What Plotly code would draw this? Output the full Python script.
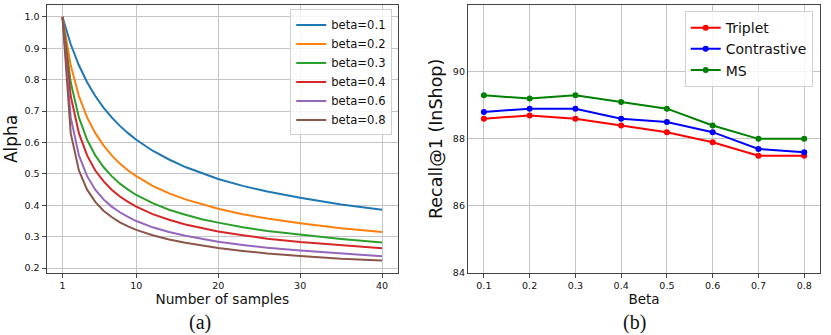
import plotly.graph_objects as go
from plotly.subplots import make_subplots

# (a) alpha vs number of samples, one curve per beta
samples = [1, 2, 3, 4, 5, 6, 7, 8, 9, 10, 12, 14, 16, 18, 20, 23, 26, 30, 35, 40]
betas = ["beta=0.1", "beta=0.2", "beta=0.3", "beta=0.4", "beta=0.6", "beta=0.8"]
alpha_b01 = [1.0, .913, .846, .792, .748, .711, .680, .653, .630, .609, .574, .546, .522, .502, .484, .462, .444, .424, .403, .386]
alpha_b02 = [1.0, .846, .748, .680, .630, .591, .559, .533, .511, .493, .462, .438, .419, .403, .389, .372, .358, .343, .327, .315]
alpha_b03 = [1.0, .792, .680, .609, .559, .522, .493, .469, .450, .433, .407, .386, .370, .356, .345, .330, .318, .306, .293, .282]
alpha_b04 = [1.0, .748, .630, .559, .511, .477, .450, .428, .411, .396, .372, .354, .339, .327, .317, .305, .294, .283, .272, .263]
alpha_b06 = [1.0, .680, .559, .493, .450, .419, .396, .378, .363, .350, .330, .315, .303, .293, .284, .274, .265, .256, .246, .238]
alpha_b08 = [1.0, .630, .511, .450, .411, .383, .363, .346, .333, .322, .305, .291, .281, .272, .264, .255, .247, .239, .230, .224]

# (b) recall@1 on InShop vs beta
beta_vals = [0.1, 0.2, 0.3, 0.4, 0.5, 0.6, 0.7, 0.8]
triplet = [88.6, 88.7, 88.6, 88.4, 88.2, 87.9, 87.5, 87.5]
contrastive = [88.8, 88.9, 88.9, 88.6, 88.5, 88.2, 87.7, 87.6]
ms = [89.3, 89.2, 89.3, 89.1, 88.9, 88.4, 88.0, 88.0]

tab10 = ["#1f77b4", "#ff7f0e", "#2ca02c", "#d62728", "#9467bd", "#8c564b"]
font = "DejaVu Sans"

fig = make_subplots(rows=1, cols=2)

curves = [alpha_b01, alpha_b02, alpha_b03, alpha_b04, alpha_b06, alpha_b08]
for name, ys, c in zip(betas, curves, tab10):
    fig.add_trace(go.Scatter(x=samples, y=ys, mode="lines", name=name,
                             line=dict(color=c, width=2), legend="legend"), row=1, col=1)

for name, ys, c in [("Triplet", triplet, "#ff0000"), ("Contrastive", contrastive, "#0000ff"), ("MS", ms, "#008000")]:
    fig.add_trace(go.Scatter(x=beta_vals, y=ys, mode="lines+markers", name=name,
                             line=dict(color=c, width=2), marker=dict(size=6, color=c),
                             legend="legend2"), row=1, col=2)

axis_common = dict(showline=True, mirror=True, linecolor="#444", linewidth=1,
                   showgrid=True, gridcolor="#c4c4c4", gridwidth=1, zeroline=False,
                   ticks="outside", ticklen=4, tickcolor="#444", automargin=False,
                   tickfont=dict(family=font, size=9.5, color="#111"))

fig.update_xaxes(axis_common)
fig.update_yaxes(axis_common)

fig.update_xaxes(domain=[0.056, 0.479], range=[-0.95, 41.95], tickvals=[1, 10, 20, 30, 40],
                 title=dict(text="Number of samples", font=dict(family=font, size=13.7, color="#111"), standoff=3),
                 row=1, col=1)
fig.update_yaxes(domain=[0.185, 0.986], range=[0.1845, 1.039], tickvals=[0.2, 0.3, 0.4, 0.5, 0.6, 0.7, 0.8, 0.9, 1.0],
                 tickformat=".1f",
                 title=dict(text="Alpha", font=dict(family=font, size=17, color="#111"), standoff=2),
                 row=1, col=1)
fig.update_xaxes(domain=[0.563, 0.987], range=[0.065, 0.835], tickvals=beta_vals, tickformat=".1f",
                 title=dict(text="Beta", font=dict(family=font, size=13.5, color="#111"), standoff=3),
                 row=1, col=2)
fig.update_yaxes(domain=[0.185, 0.986], range=[84, 92], tickvals=[84, 86, 88, 90, 92],
                 ticks="", ticklen=0,
                 title=dict(text="Recall@1 (InShop)", font=dict(family=font, size=17.5, color="#111"), standoff=5),
                 row=1, col=2)

fig.update_layout(
    width=831, height=335,
    margin=dict(l=0, r=0, t=0, b=0),
    paper_bgcolor="white", plot_bgcolor="white",
    font=dict(family=font, color="#111"),
    legend=dict(x=0.472, y=0.972, xanchor="right", yanchor="top",
                bgcolor="rgba(255,255,255,0.85)", bordercolor="#d0d0d0", borderwidth=1,
                font=dict(family=font, size=11.6), tracegroupgap=0, itemwidth=30),
    legend2=dict(x=0.978, y=0.967, xanchor="right", yanchor="top",
                 bgcolor="rgba(255,255,255,0.85)", bordercolor="#d0d0d0", borderwidth=1,
                 font=dict(family=font, size=14), tracegroupgap=0, itemwidth=30),
    annotations=[
        dict(text="(a)", x=200 / 831, y=1 - 322 / 335, xref="paper", yref="paper",
             xanchor="center", yanchor="middle",
             showarrow=False, font=dict(family="Liberation Serif", size=20, color="#111")),
        dict(text="(b)", x=634 / 831, y=1 - 322 / 335, xref="paper", yref="paper",
             xanchor="center", yanchor="middle",
             showarrow=False, font=dict(family="Liberation Serif", size=20, color="#111")),
    ],
)

# drop the page's default body margin so the figure sits at the window's corner
fig.write_html("out.html", config={"displayModeBar": False},
               post_script="document.body.style.margin='0';document.body.style.overflow='hidden';")
